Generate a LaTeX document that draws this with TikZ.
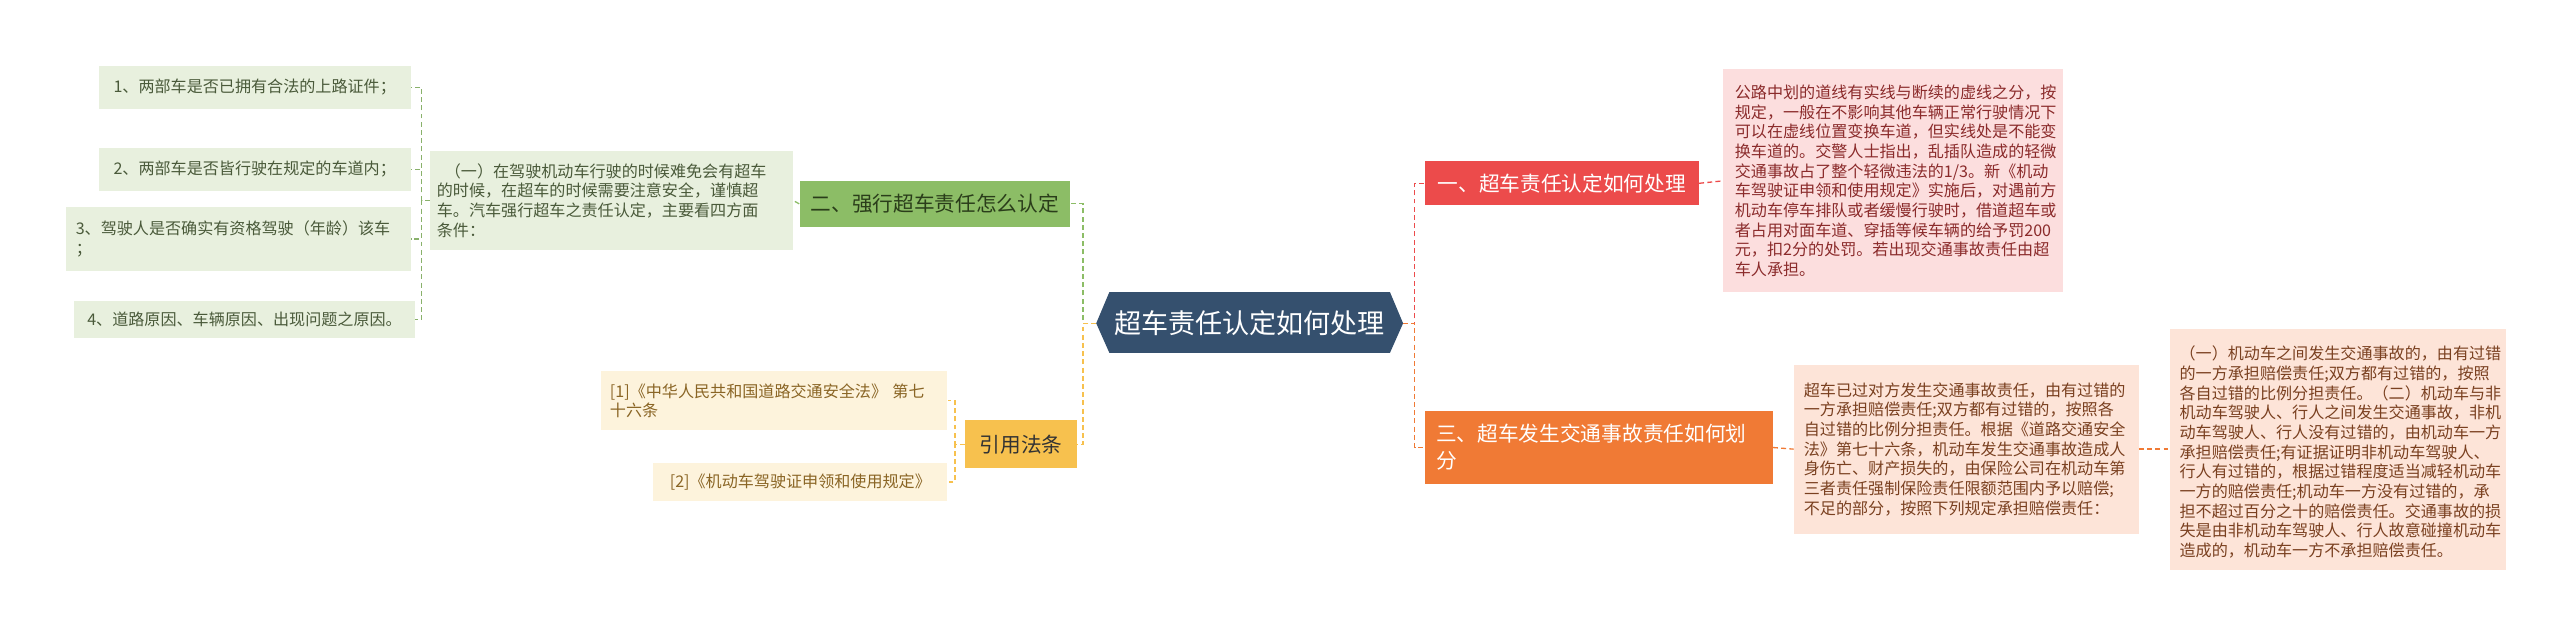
\documentclass[tikz,border=0pt]{standalone}
\usepackage{fontspec}
\setmainfont{Noto Sans CJK SC}
\usetikzlibrary{calc}
\definecolor{cblue}{HTML}{35506E}
\definecolor{cred}{HTML}{EC4B4B}
\definecolor{cpink}{HTML}{FCDEDE}
\definecolor{tpink}{HTML}{8B2B2B}
\definecolor{corange}{HTML}{F07A35}
\definecolor{cpeach}{HTML}{FDE4D8}
\definecolor{tpeach}{HTML}{7A4020}
\definecolor{cgreen}{HTML}{8CBD66}
\definecolor{tgreen}{HTML}{2A3D1A}
\definecolor{clgreen}{HTML}{E8F0DE}
\definecolor{tlgreen}{HTML}{4A5A3A}
\definecolor{cyellow}{HTML}{F7C14E}
\definecolor{clyellow}{HTML}{FDF3DC}
\definecolor{tyellow}{HTML}{8A6525}
\tikzset{
  box/.style={inner sep=0pt, align=left, anchor=north west},
  small/.style={font=\fontsize{9.8}{12}\selectfont},
  leaf/.style={box, small, fill=clgreen, text=tlgreen, draw=clgreen!80!gray, dashed, densely dashed},
  conn/.style={densely dashed, line width=0.8pt},
}
\begin{document}
\begin{tikzpicture}[x=1pt,y=-1pt]
\useasboundingbox (0,0) rectangle (1560,388);
% center
\node[text=white, font=\fontsize{16.5}{18}\selectfont] (c) at (761.5,197) {超车责任认定如何处理};
\fill[cblue] (668,197) -- (676,178) -- (847,178) -- (855,197) -- (847,215) -- (676,215) -- cycle;
\node[text=white, font=\fontsize{16.5}{18}\selectfont] at (761.5,197) {超车责任认定如何处理};
\coordinate (cw) at (668,197);
\coordinate (ce) at (855,197);
% right branch 1
\node[box, fill=cred, text=white, font=\fontsize{12.6}{15}\selectfont, minimum width=167pt, minimum height=27pt, inner xsep=7pt] (r1) at (868,98) {一、超车责任认定如何处理};
\node[box, small, fill=cpink, text=tpink, minimum width=207pt, minimum height=136pt, inner xsep=7pt, inner ysep=6pt, text width=193pt] (d1) at (1050,42) {公路中划的道线有实线与断续的虚线之分，按\\规定，一般在不影响其他车辆正常行驶情况下\\可以在虚线位置变换车道，但实线处是不能变\\换车道的。交警人士指出，乱插队造成的轻微\\交通事故占了整个轻微违法的1/3。新《机动\\车驾驶证申领和使用规定》实施后，对遇前方\\机动车停车排队或者缓慢行驶时，借道超车或\\者占用对面车道、穿插等候车辆的给予罚200\\元，扣2分的处罚。若出现交通事故责任由超\\车人承担。};
% right branch 2
\node[box, fill=corange, text=white, font=\fontsize{12.6}{16.5}\selectfont, minimum width=212pt, minimum height=45pt, inner xsep=7pt, text width=198pt] (r2) at (868,250) {三、超车发生交通事故责任如何划\\分};
\node[box, small, fill=cpeach, text=tpeach, minimum width=210pt, minimum height=103pt, inner xsep=6pt, inner ysep=5pt, text width=198pt] (d2) at (1093,222) {超车已过对方发生交通事故责任，由有过错的\\一方承担赔偿责任;双方都有过错的，按照各\\自过错的比例分担责任。根据《道路交通安全\\法》第七十六条，机动车发生交通事故造成人\\身伤亡、财产损失的，由保险公司在机动车第\\三者责任强制保险责任限额范围内予以赔偿;\\不足的部分，按照下列规定承担赔偿责任：};
\node[box, small, fill=cpeach, text=tpeach, minimum width=205pt, minimum height=147pt, inner xsep=6pt, inner ysep=5pt, text width=193pt] (d3) at (1322,200) {\hspace{0.5em}（一）机动车之间发生交通事故的，由有过错\\的一方承担赔偿责任;双方都有过错的，按照\\各自过错的比例分担责任。（二）机动车与非\\机动车驾驶人、行人之间发生交通事故，非机\\动车驾驶人、行人没有过错的，由机动车一方\\承担赔偿责任;有证据证明非机动车驾驶人、\\行人有过错的，根据过错程度适当减轻机动车\\一方的赔偿责任;机动车一方没有过错的，承\\担不超过百分之十的赔偿责任。交通事故的损\\失是由非机动车驾驶人、行人故意碰撞机动车\\造成的，机动车一方不承担赔偿责任。};
% left branch green
\node[box, fill=cgreen, text=tgreen, font=\fontsize{12.6}{15}\selectfont, minimum width=165pt, minimum height=28pt, inner xsep=6pt] (g) at (487,110) {二、强行超车责任怎么认定};
\node[box, small, fill=clgreen, text=tlgreen, minimum width=221pt, minimum height=60pt, inner xsep=4pt, inner ysep=5pt, text width=213pt] (g0) at (262,92) {\hspace{0.5em}（一）在驾驶机动车行驶的时候难免会有超车\\的时候，在超车的时候需要注意安全，谨慎超\\车。汽车强行超车之责任认定，主要看四方面\\条件：};
\node[box, small, fill=clgreen, text=tlgreen, minimum width=190pt, minimum height=26pt, inner xsep=8pt] (l1) at (60,40) {1、两部车是否已拥有合法的上路证件；};
\node[box, small, fill=clgreen, text=tlgreen, minimum width=190pt, minimum height=26pt, inner xsep=8pt] (l2) at (60,90) {2、两部车是否皆行驶在规定的车道内；};
\node[box, small, fill=clgreen, text=tlgreen, minimum width=210pt, minimum height=39pt, inner xsep=6pt, text width=198pt] (l3) at (40,126) {3、驾驶人是否确实有资格驾驶（年龄）该车\\；};
\node[box, small, fill=clgreen, text=tlgreen, minimum width=205pt, minimum height=23pt, inner xsep=8pt] (l4) at (45,183) {4、道路原因、车辆原因、出现问题之原因。};
% yellow branch
\node[box, fill=cyellow, text=black!80, font=\fontsize{12.6}{15}\selectfont, minimum width=68pt, minimum height=29pt, inner xsep=7pt] (y) at (588,256) {引用法条};
\node[box, small, fill=clyellow, text=tyellow, minimum width=211pt, minimum height=36pt, inner xsep=5pt, inner ysep=5pt, text width=200pt] (y1) at (366,226) {[1]《中华人民共和国道路交通安全法》 第七\\十六条};
\node[box, small, fill=clyellow, text=tyellow, minimum width=179pt, minimum height=23pt, inner xsep=8pt] (y2) at (398,282) {[2]《机动车驾驶证申领和使用规定》};
% connectors
\draw[conn, cred] (ce) -- ++(7,0) |- (r1.west);
\draw[conn, corange] (ce) -- ++(7,0) |- (r2.west);
\draw[conn, cred] (r1.east) -- (d1.west);
\draw[conn, corange] (r2.east) -- (d2.west);
\draw[conn, corange] (d2.east) -- (d3.west);
\draw[conn, cgreen] (cw) -- ++(-8,0) |- (g.east);
\draw[conn, cyellow] (cw) -- ++(-8,0) |- (y.east);
\draw[conn, cgreen] (g.west) -- (g0.east);
\foreach \n in {l1,l2,l3,l4} \draw[conn, cgreen!80!gray] (g0.west) -- ++(-5,0) |- (\n.east);
\draw[conn, cyellow] (y.west) -- ++(-6,0) |- (y1.east);
\draw[conn, cyellow] (y.west) -- ++(-6,0) |- (y2.east);
\end{tikzpicture}
\end{document}
